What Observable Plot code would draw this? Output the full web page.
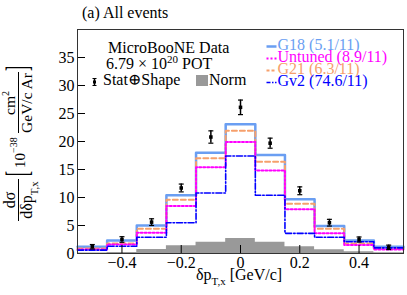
<!DOCTYPE html>
<html>
<head>
<meta charset="utf-8">
<script src="https://cdn.jsdelivr.net/npm/d3@7"></script>
<script src="https://cdn.jsdelivr.net/npm/@observablehq/plot@0.6"></script>
<style>
  html, body { margin: 0; padding: 0; background: #fff; }
  #chart svg { display: block; }
</style>
</head>
<body>
<div id="chart"></div>
<script>
// ---- data ----
const binCenters = [-0.5, -0.4, -0.3, -0.2, -0.1, 0, 0.1, 0.2, 0.3, 0.4, 0.5];
const binWidth = 0.1;
const dataValues = [1.2, 2.5, 5.6, 11.7, 20.8, 26.1, 19.7, 11.2, 5.5, 2.5, 1.1];
const dataErrors = [0.4, 0.5, 0.6, 0.7, 1.1, 1.3, 0.9, 0.7, 0.6, 0.45, 0.4];
const g18Values = [1.2, 2.3, 5.0, 10.4, 18.0, 23.1, 17.6, 9.7, 4.9, 2.3, 1.2];
const untunedValues = [0.7, 1.6, 3.7, 8.5, 15.4, 19.9, 14.8, 7.9, 3.6, 1.5, 0.7];
const g21Values = [0.9, 1.8, 4.4, 9.6, 17.0, 21.9, 16.4, 8.9, 4.4, 1.8, 0.9];
const gv2Values = [0.6, 1.3, 2.9, 5.5, 10.8, 17.4, 10.4, 3.6, 2.9, 2.1, 1.0];
const normValues = [0.1, 0.2, 0.7, 1.4, 2.0, 2.7, 2.0, 1.2, 0.65, 0.3, 0.15];
const xTicks = [-0.4, -0.2, 0, 0.2, 0.4];
const yTicks = [0, 5, 10, 15, 20, 25, 30, 35];
const legendNames = ["G18 (5.1/11)", "Untuned (8.9/11)", "G21 (6.3/11)", "Gv2 (74.6/11)"];

// ---- styles ----
const serif = "'Liberation Serif', 'Times New Roman', 'DejaVu Serif', serif";
const C = {g18: "#6a9ef2", untuned: "#ff00ff", g21: "#f6a06c", gv2: "#0000ff", norm: "#999999"};

function steps(values) {
  const rows = binCenters.map((c, i) => ({x: c - binWidth / 2, y: values[i]}));
  rows.push({x: binCenters[binCenters.length - 1] + binWidth / 2, y: values[values.length - 1]});
  return rows;
}
const points = binCenters.map((c, i) => ({x: c, y: dataValues[i], lo: dataValues[i] - dataErrors[i], hi: dataValues[i] + dataErrors[i]}));
const capSymbol = {draw(ctx) { ctx.moveTo(-2.5, 0); ctx.lineTo(2.5, 0); }};

const plot = Plot.plot({
  width: 407,
  height: 295,
  marginLeft: 77,
  marginRight: 4,
  marginTop: 29,
  marginBottom: 42,
  style: {fontFamily: serif, fontSize: "16px", background: "white", color: "black"},
  x: {domain: [-0.55, 0.55]},
  y: {domain: [0, 40]},
  marks: [
    Plot.areaY(steps(normValues), {x: "x", y: "y", curve: "step-after", fill: C.norm}),
    Plot.line(steps(g18Values), {x: "x", y: "y", curve: "step-after", stroke: C.g18, strokeWidth: 2.5}),
    Plot.line(steps(g21Values), {x: "x", y: "y", curve: "step-after", stroke: C.g21, strokeWidth: 2, strokeDasharray: "5,3"}),
    Plot.line(steps(untunedValues), {x: "x", y: "y", curve: "step-after", stroke: C.untuned, strokeWidth: 2, strokeDasharray: "2,2"}),
    Plot.line(steps(gv2Values), {x: "x", y: "y", curve: "step-after", stroke: C.gv2, strokeWidth: 1.6, strokeDasharray: "6,2,1.5,2"}),
    Plot.ruleX(points, {x: "x", y1: "lo", y2: "hi", stroke: "black", strokeWidth: 1.5}),
    Plot.dot(points, {x: "x", y: "lo", symbol: capSymbol, stroke: "black", strokeWidth: 1.2, fill: "none"}),
    Plot.dot(points, {x: "x", y: "hi", symbol: capSymbol, stroke: "black", strokeWidth: 1.2, fill: "none"}),
    Plot.dot(points, {x: "x", y: "y", symbol: "square", r: 2, fill: "black"}),
    Plot.axisX({ticks: xTicks, tickSize: -8, tickPadding: 11, label: null,
      tickFormat: d => (d < 0 ? "\u2212" : "") + Math.abs(d)}),
    Plot.axisY({ticks: yTicks, tickSize: -8, tickPadding: 11, label: null}),
    Plot.frame({stroke: "#333"})
  ]
});
document.getElementById("chart").appendChild(plot);

// ---- annotations (text) ----
const svg = d3.select(plot);
const ann = svg.append("g").attr("font-family", serif).attr("fill", "black").attr("text-anchor", "start");

// title
ann.append("text").attr("x", 82).attr("y", 18).attr("font-size", 16).text("(a) All events");

// left legend block
ann.append("text").attr("x", 108).attr("y", 52.5).attr("font-size", 16).text("MicroBooNE Data");
const pot = ann.append("text").attr("x", 106).attr("y", 68.5).attr("font-size", 16);
pot.append("tspan").text("6.79 \u00d7 10");
pot.append("tspan").attr("font-size", 11).attr("dy", -6).text("20");
pot.append("tspan").attr("dy", 6).text(" POT");
// stat marker
ann.append("line").attr("x1", 94.5).attr("x2", 94.5).attr("y1", 78.5).attr("y2", 85.5).attr("stroke", "black").attr("stroke-width", 1.5);
ann.append("line").attr("x1", 92.5).attr("x2", 96.5).attr("y1", 78.5).attr("y2", 78.5).attr("stroke", "black");
ann.append("line").attr("x1", 92.5).attr("x2", 96.5).attr("y1", 85.5).attr("y2", 85.5).attr("stroke", "black");
ann.append("rect").attr("x", 93).attr("y", 80.5).attr("width", 3).attr("height", 3).attr("fill", "black");
ann.append("text").attr("x", 103).attr("y", 84.5).attr("font-size", 16).text("Stat\u2295Shape");
ann.append("rect").attr("x", 196).attr("y", 75).attr("width", 12).attr("height", 11).attr("fill", C.norm);
ann.append("text").attr("x", 209).attr("y", 84.5).attr("font-size", 16).text("Norm");

// right legend
const legStyles = [
  {c: C.g18, w: 2.5, d: null},
  {c: C.untuned, w: 2, d: "2,2"},
  {c: C.g21, w: 2, d: "3,2"},
  {c: C.gv2, w: 1.6, d: "4,1.5,1.5,1.5"}
];
const legBase = [50, 62, 74, 86];
legendNames.forEach((name, i) => {
  const s = legStyles[i];
  ann.append("line").attr("x1", 266.5).attr("x2", 276.5).attr("y1", legBase[i] - 3.5).attr("y2", legBase[i] - 3.5)
    .attr("stroke", s.c).attr("stroke-width", s.w).attr("stroke-dasharray", s.d);
  ann.append("text").attr("x", 277.5).attr("y", legBase[i]).attr("font-size", 16).attr("fill", s.c).text(name);
});

// x axis label
const xl = ann.append("text").attr("x", 196).attr("y", 280).attr("font-size", 16);
xl.append("tspan").text("\u03b4p");
xl.append("tspan").attr("font-size", 11).attr("dy", 5).text("T,x");
xl.append("tspan").attr("dy", -5).text(" [GeV/c]");

// y axis label (rotated)
const yl = ann.append("g").attr("transform", "translate(0,222) rotate(-90)");
// fraction dσ / dδp_T,x
yl.append("text").attr("x", 22).attr("y", 15).attr("font-size", 16).attr("text-anchor", "middle").text("d\u03c3");
const den = yl.append("text").attr("x", 22).attr("y", 32).attr("font-size", 16).attr("text-anchor", "middle");
den.append("tspan").text("d\u03b4p");
den.append("tspan").attr("font-size", 11).attr("dy", 6).text("T,x");
yl.append("line").attr("x1", 1).attr("x2", 43).attr("y1", 18.5).attr("y2", 18.5).attr("stroke", "black").attr("stroke-width", 1);
// bracket [
yl.append("text").attr("x", 46).attr("y", 0).attr("font-size", 15).attr("transform", "translate(0,28) scale(1,2.1)").text("[");
// 10^-38
const pw = yl.append("text").attr("x", 54).attr("y", 25).attr("font-size", 15);
pw.append("tspan").text("10");
pw.append("tspan").attr("font-size", 10).attr("dy", -8).text("\u221238");
// fraction cm^2 / GeV/c Ar
const num2 = yl.append("text").attr("x", 119).attr("y", 15).attr("font-size", 15.5).attr("text-anchor", "middle");
num2.append("tspan").text("cm");
num2.append("tspan").attr("font-size", 10).attr("dy", -6).text("2");
yl.append("text").attr("x", 119).attr("y", 32).attr("font-size", 15.5).attr("text-anchor", "middle").text("GeV/c Ar");
yl.append("line").attr("x1", 89).attr("x2", 150).attr("y1", 18.5).attr("y2", 18.5).attr("stroke", "black").attr("stroke-width", 1);
// bracket ]
yl.append("text").attr("x", 151).attr("y", 0).attr("font-size", 15).attr("transform", "translate(0,28) scale(1,2.1)").text("]");
</script>
</body>
</html>
